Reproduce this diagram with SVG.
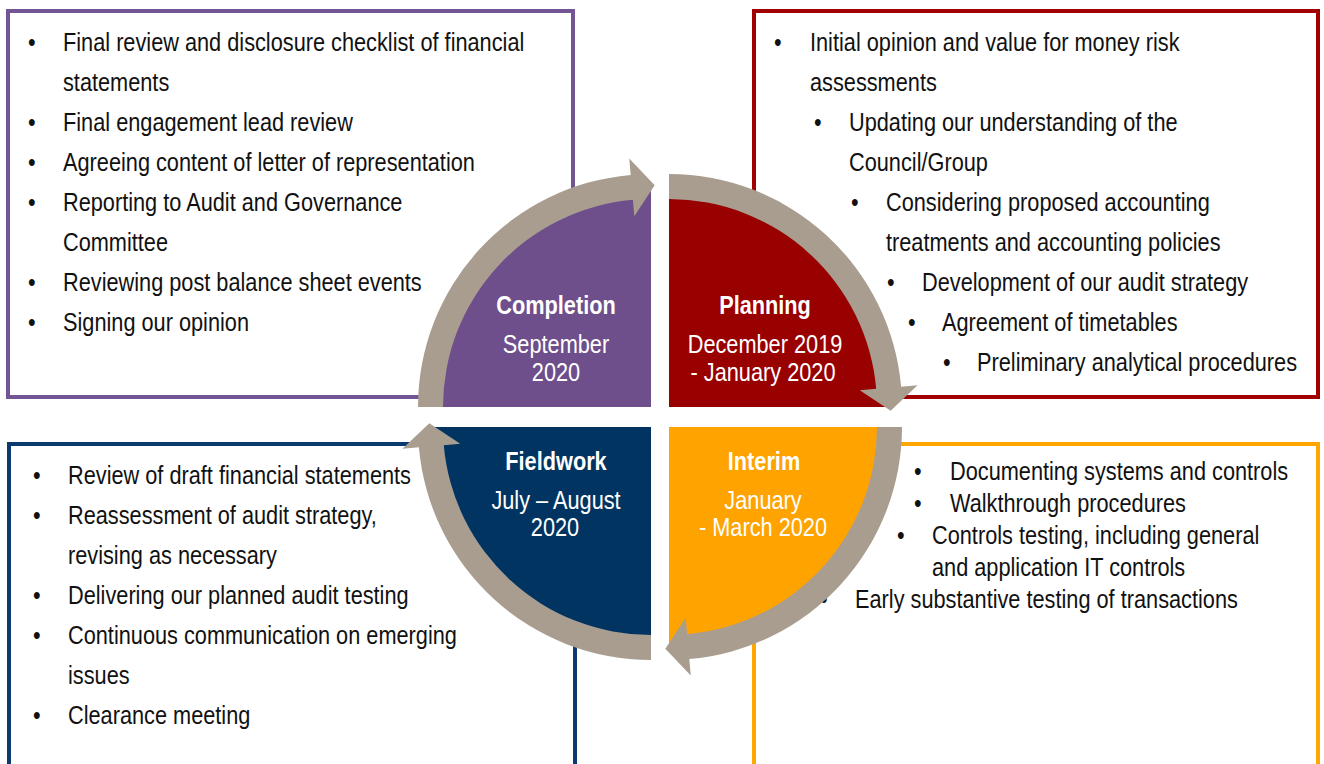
<svg xmlns="http://www.w3.org/2000/svg" xmlns:xlink="http://www.w3.org/1999/xlink" width="1324" height="764" viewBox="0 0 1324 764">
<style>
.box{fill:#fff;stroke-width:4}
.t{font-family:"Liberation Sans",Arial,sans-serif;font-size:26px;fill:#111}
.q{font-family:"Liberation Sans",Arial,sans-serif;font-size:26px;fill:#fff;text-anchor:middle}
.qb{font-weight:bold}
.arrow{fill:#A99D90}
</style>
<defs>
<path id="arr" d="M -233 0 A 233 233 0 0 1 -20.31 -232.11 L -21.75 -248.55 L 3.69 -221.66 L -16.69 -190.77 L -18.13 -207.21 A 208 208 0 0 0 -208 0 Z"/>
</defs>
<rect width="1324" height="764" fill="#fff"/>

<g id="completion-box">
<rect class="box" x="8" y="11" width="565" height="386" stroke="#735594"/>
<text class="t" transform="translate(28 51) scale(.836 1)">•</text>
<text class="t" transform="translate(63 51) scale(.836 1)">Final review and disclosure checklist of financial</text>
<text class="t" transform="translate(63 91) scale(.836 1)">statements</text>
<text class="t" transform="translate(28 131) scale(.836 1)">•</text>
<text class="t" transform="translate(63 131) scale(.836 1)">Final engagement lead review</text>
<text class="t" transform="translate(28 171) scale(.836 1)">•</text>
<text class="t" transform="translate(63 171) scale(.836 1)">Agreeing content of letter of representation</text>
<text class="t" transform="translate(28 211) scale(.836 1)">•</text>
<text class="t" transform="translate(63 211) scale(.836 1)">Reporting to Audit and Governance</text>
<text class="t" transform="translate(63 251) scale(.836 1)">Committee</text>
<text class="t" transform="translate(28 291) scale(.836 1)">•</text>
<text class="t" transform="translate(63 291) scale(.836 1)">Reviewing post balance sheet events</text>
<text class="t" transform="translate(28 331) scale(.836 1)">•</text>
<text class="t" transform="translate(63 331) scale(.836 1)">Signing our opinion</text>
</g>

<g id="planning-box">
<rect class="box" x="754" y="11" width="564" height="386" stroke="#A00000"/>
<text class="t" transform="translate(774 51) scale(.836 1)">•</text>
<text class="t" transform="translate(810 51) scale(.836 1)">Initial opinion and value for money risk</text>
<text class="t" transform="translate(810 91) scale(.836 1)">assessments</text>
<text class="t" transform="translate(814 131) scale(.836 1)">•</text>
<text class="t" transform="translate(849 131) scale(.836 1)">Updating our understanding of the</text>
<text class="t" transform="translate(849 171) scale(.836 1)">Council/Group</text>
<text class="t" transform="translate(851 211) scale(.836 1)">•</text>
<text class="t" transform="translate(886 211) scale(.836 1)">Considering proposed accounting</text>
<text class="t" transform="translate(886 251) scale(.836 1)">treatments and accounting policies</text>
<text class="t" transform="translate(887 291) scale(.836 1)">•</text>
<text class="t" transform="translate(922 291) scale(.836 1)">Development of our audit strategy</text>
<text class="t" transform="translate(908 331) scale(.836 1)">•</text>
<text class="t" transform="translate(942 331) scale(.836 1)">Agreement of timetables</text>
<text class="t" transform="translate(943 371) scale(.836 1)">•</text>
<text class="t" transform="translate(977 371) scale(.836 1)">Preliminary analytical procedures</text>
</g>

<g id="fieldwork-box">
<rect class="box" x="9" y="444" width="566" height="340" stroke="#0B3A6E"/>
<text class="t" transform="translate(33 484) scale(.836 1)">•</text>
<text class="t" transform="translate(68 484) scale(.836 1)">Review of draft financial statements</text>
<text class="t" transform="translate(33 524) scale(.836 1)">•</text>
<text class="t" transform="translate(68 524) scale(.836 1)">Reassessment of audit strategy,</text>
<text class="t" transform="translate(68 564) scale(.836 1)">revising as necessary</text>
<text class="t" transform="translate(33 604) scale(.836 1)">•</text>
<text class="t" transform="translate(68 604) scale(.836 1)">Delivering our planned audit testing</text>
<text class="t" transform="translate(33 644) scale(.836 1)">•</text>
<text class="t" transform="translate(68 644) scale(.836 1)">Continuous communication on emerging</text>
<text class="t" transform="translate(68 684) scale(.836 1)">issues</text>
<text class="t" transform="translate(33 724) scale(.836 1)">•</text>
<text class="t" transform="translate(68 724) scale(.836 1)">Clearance meeting</text>
</g>

<g id="interim-box">
<rect class="box" x="754" y="444" width="564" height="340" stroke="#FFA600"/>
<text class="t" transform="translate(914 480) scale(.836 1)">•</text>
<text class="t" transform="translate(950 480) scale(.836 1)">Documenting systems and controls</text>
<text class="t" transform="translate(914 512) scale(.836 1)">•</text>
<text class="t" transform="translate(950 512) scale(.836 1)">Walkthrough procedures</text>
<text class="t" transform="translate(897 544) scale(.836 1)">•</text>
<text class="t" transform="translate(932 544) scale(.836 1)">Controls testing, including general</text>
<text class="t" transform="translate(932 576) scale(.836 1)">and application IT controls</text>
<text class="t" transform="translate(820 608) scale(.836 1)">•</text>
<text class="t" transform="translate(855 608) scale(.836 1)">Early substantive testing of transactions</text>
</g>

<g id="completion">
<path d="M 651 407 L 431 407 A 220 220 0 0 1 651 187 Z" fill="#6E4F8B"/>
</g>
<g id="planning">
<path d="M 669 407 L 669 187 A 220 220 0 0 1 889 407 Z" fill="#990000"/>
</g>
<g id="interim">
<path d="M 669 427 L 889 427 A 220 220 0 0 1 669 647 Z" fill="#FFA300"/>
</g>
<g id="fieldwork">
<path d="M 651 427 L 651 647 A 220 220 0 0 1 431 427 Z" fill="#023462"/>
</g>

<g id="connectors">
<use xlink:href="#arr" class="arrow" transform="translate(651 407)"/>
<use xlink:href="#arr" class="arrow" transform="translate(669 407) rotate(90)"/>
<use xlink:href="#arr" class="arrow" transform="translate(669 427) rotate(180)"/>
<use xlink:href="#arr" class="arrow" transform="translate(651 427) rotate(270)"/>
</g>

<g id="labels">
<text class="q qb" transform="translate(556 314) scale(.836 1)">Completion</text>
<text class="q" transform="translate(556 353) scale(.836 1)">September</text>
<text class="q" transform="translate(556 381) scale(.836 1)">2020</text>
<text class="q qb" transform="translate(765 314) scale(.836 1)">Planning</text>
<text class="q" transform="translate(765 353) scale(.836 1)">December 2019</text>
<text class="q" transform="translate(763 381) scale(.836 1)">- January 2020</text>
<text class="q qb" transform="translate(556 470) scale(.836 1)">Fieldwork</text>
<text class="q" transform="translate(556 509) scale(.836 1)">July – August</text>
<text class="q" transform="translate(555 536) scale(.836 1)">2020</text>
<text class="q qb" transform="translate(764 470) scale(.836 1)">Interim</text>
<text class="q" transform="translate(763 509) scale(.836 1)">January</text>
<text class="q" transform="translate(763 536) scale(.836 1)">- March 2020</text>
</g>
</svg>
